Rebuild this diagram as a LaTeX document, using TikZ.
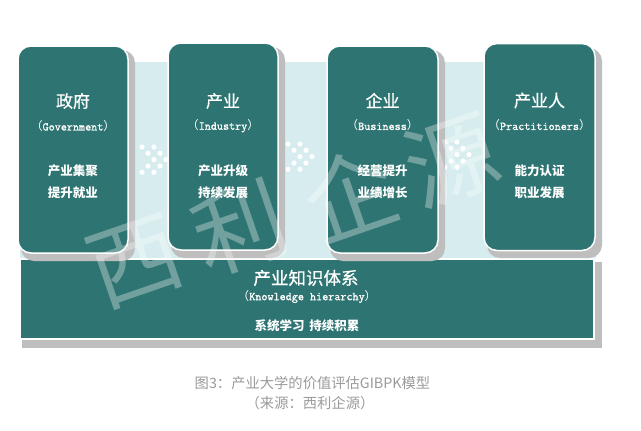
\documentclass[tikz,border=0pt]{standalone}
\usepackage{fontspec}
\newfontfamily\cjk{Noto Sans CJK SC}
\newfontfamily\cjktitle[FakeBold=0.7]{Noto Sans CJK SC}
\newfontfamily\lmono[FakeBold=1.2]{Latin Modern Mono}
\definecolor{tealbox}{RGB}{46,116,114}
\definecolor{bandcol}{RGB}{214,236,238}
\definecolor{shgray}{RGB}{190,190,190}
\definecolor{capgray}{RGB}{155,155,155}
\tikzset{
  colbox/.style={fill=tealbox, draw=white, line width=1.5pt, rounded corners=13pt,
    minimum width=110pt, minimum height=207pt, inner sep=0pt},
  basebox/.style={fill=tealbox, draw=white, line width=1.5pt,
    minimum width=574pt, minimum height=80pt, inner sep=0pt},
  shadowfill/.style={fill=shgray},
  titletext/.style={text=white, inner sep=0pt, font=\cjktitle\fontsize{17}{20}\selectfont},
  latintext/.style={text=white, inner sep=0pt, font=\fontsize{11.8}{14}\selectfont},
  bodytext/.style={text=white, inner sep=0pt, font=\cjk\bfseries\fontsize{12.5}{15}\selectfont},
  captext/.style={text=capgray, inner sep=0pt, font=\cjk\fontsize{14.3}{17}\selectfont},
  wmtext/.style={text=white, text opacity=0.32, inner sep=0pt, rotate=19,
    font=\cjk\fontsize{92}{92}\selectfont},
  dotfill/.style={fill=white}
}
\newcommand{\latinpar}[1]{{\cjk（}{\lmono #1}{\cjk）}}
\newcommand{\dotchevron}[2]{%
  \foreach \dx/\dy in {0/0,12/0,6/6.3,18/6.3,12/12.6,24/12.6,6/19,18/19,0/25.3,12/25.3}
    {\fill[dotfill] (#1+\dx,#2+\dy) circle (2.6pt);}%
}
\begin{document}
\begin{tikzpicture}[x=1pt,y=-1pt]
\useasboundingbox[fill=white] (0,0) rectangle (641,431);

% light band behind the columns
\fill[bandcol] (20,62) rectangle (596,258);

% decorative dots
\dotchevron{142}{147}
\dotchevron{288}{144}
\dotchevron{445}{142}

% base box
\fill[shadowfill] (22,262) rectangle (602,348);
\node[basebox] (kb) at (307,299) {};

% columns
\fill[shadowfill, rounded corners=13pt] (21,50) rectangle (135,261);
\node[colbox] (b1) at (73,149.5) {};
\fill[shadowfill, rounded corners=13pt] (171,47) rectangle (285,258);
\node[colbox] (b2) at (223,146.5) {};
\fill[shadowfill, rounded corners=13pt] (330,50) rectangle (445,261);
\node[colbox, minimum width=111pt] (b3) at (382.5,149.5) {};
\fill[shadowfill, rounded corners=13pt] (487,48) rectangle (602,258);
\node[colbox, minimum width=111pt] (b4) at (539.5,147) {};

% column texts
\node[titletext] (t1) at (73,101) {政府};
\node[latintext] (l1) at (73,126) {\latinpar{Government}};
\node[bodytext] (p1a) at (73,171) {产业集聚};
\node[bodytext] (p1b) at (73,193) {提升就业};

\node[titletext] (t2) at (223,101) {产业};
\node[latintext] (l2) at (223,126) {\latinpar{Industry}};
\node[bodytext] (p2a) at (223,171) {产业升级};
\node[bodytext] (p2b) at (223,193) {持续发展};

\node[titletext] (t3) at (382.5,100.5) {企业};
\node[latintext] (l3) at (382.5,125.5) {\latinpar{Business}};
\node[bodytext] (p3a) at (382.5,170.5) {经营提升};
\node[bodytext] (p3b) at (382.5,193) {业绩增长};

\node[titletext] (t4) at (539.5,100.5) {产业人};
\node[latintext] (l4) at (539.5,125.5) {\latinpar{Practitioners}};
\node[bodytext] (p4a) at (539.5,170.5) {能力认证};
\node[bodytext] (p4b) at (539.5,193) {职业发展};

% base texts
\node[titletext, font=\cjktitle\fontsize{17.5}{20}\selectfont] (kt) at (306,278) {产业知识体系};
\node[latintext] (kl) at (307,296.5) {\latinpar{Knowledge hierarchy}};
\node[bodytext] (kp) at (307,326) {系统学习\hspace{0.4em}持续积累};

% caption
\node[captext] (cap1) at (312.5,383) {图3：产业大学的价值评估GIBPK模型};
\node[captext] (cap2) at (310,403) {（来源：西利企源）};

% watermark
\node[wmtext] (w1) at (136,262) {西};
\node[wmtext] (w2) at (240,228) {利};
\node[wmtext] (w3) at (350,194) {企};
\node[wmtext] (w4) at (452,160) {源};
\end{tikzpicture}
\end{document}
